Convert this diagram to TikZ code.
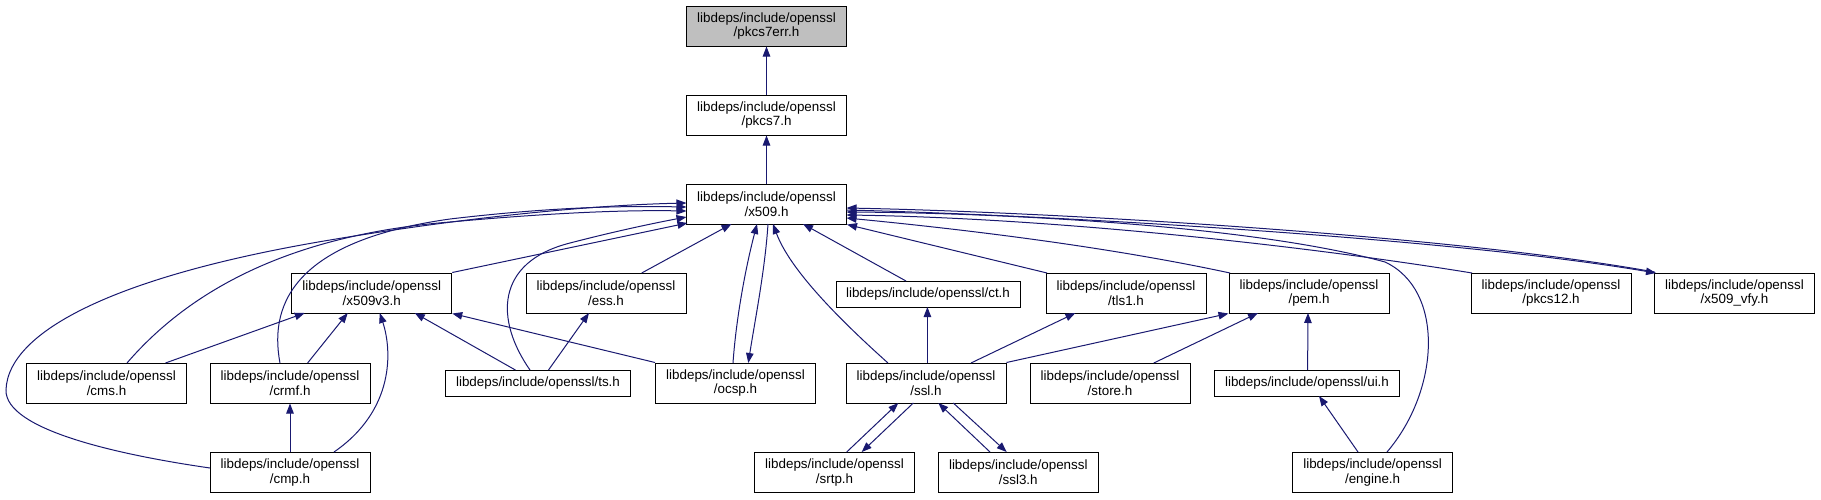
\documentclass[tikz,border=0pt]{standalone}
\usepackage{fontspec}
\setmainfont{Liberation Sans}
\usetikzlibrary{arrows.meta,calc}
\definecolor{edgeblue}{RGB}{25,25,112}
\definecolor{mainfill}{RGB}{191,191,191}
\newcommand\nodefs{\fontsize{13.4}{14.6}\selectfont}
\begin{document}
\begin{tikzpicture}[x=1pt,y=-1pt,
  box/.style={draw=black, line width=1pt, fill=white, inner sep=0pt, align=center, font=\nodefs, minimum width=160pt, minimum height=40pt},
  wide/.style={box, minimum width=185pt, minimum height=26pt},
  edge/.style={draw=edgeblue, line width=1pt, -{Triangle[length=10pt,width=7.5pt]}}]
\useasboundingbox (0,0) rectangle (1821,499);
\node[box,fill=mainfill] (pkcs7err) at (766.5,26) {libdeps/include/openssl\\/pkcs7err.h};
\node[box] (pkcs7) at (766.5,115) {libdeps/include/openssl\\/pkcs7.h};
\node[box] (x509) at (766.5,204) {libdeps/include/openssl\\/x509.h};
\node[box] (x509v3) at (371.75,293) {libdeps/include/openssl\\/x509v3.h};
\node[box] (ess) at (606,293) {libdeps/include/openssl\\/ess.h};
\node[wide,minimum width=184pt] (ct) at (928,294) {libdeps/include/openssl/ct.h};
\node[box] (tls1) at (1126,293) {libdeps/include/openssl\\/tls1.h};
\node[box] (pem) at (1309,293) {libdeps/include/openssl\\/pem.h};
\node[box] (pkcs12) at (1551,293) {libdeps/include/openssl\\/pkcs12.h};
\node[box] (vfy) at (1734.5,293) {libdeps/include/openssl\\/x509\_vfy.h};
\node[box] (cms) at (106.5,383) {libdeps/include/openssl\\/cms.h};
\node[box] (crmf) at (290,383) {libdeps/include/openssl\\/crmf.h};
\node[wide] (ts) at (538,383) {libdeps/include/openssl/ts.h};
\node[box] (ocsp) at (735.5,383) {libdeps/include/openssl\\/ocsp.h};
\node[box] (ssl) at (926,383) {libdeps/include/openssl\\/ssl.h};
\node[box] (store) at (1110,383) {libdeps/include/openssl\\/store.h};
\node[wide] (ui) at (1307,383) {libdeps/include/openssl/ui.h};
\node[box] (cmp) at (290,472.5) {libdeps/include/openssl\\/cmp.h};
\node[box] (srtp) at (834.5,472.5) {libdeps/include/openssl\\/srtp.h};
\node[box] (ssl3) at (1018.3,472.5) {libdeps/include/openssl\\/ssl3.h};
\node[box] (engine) at (1372.6,472.5) {libdeps/include/openssl\\/engine.h};
% edges
\draw[edge] (pkcs7.north) -- (pkcs7err.south);
\draw[edge] (x509.north) -- (pkcs7.south);
\draw[edge] (x509v3.north east) -- ($(x509)+(-79,19)$);
\draw[edge] ($(ess)+(35.7,-20)$) -- ($(x509)+(-35,20)$);
\draw[edge] ($(ocsp)+(-2.5,-20)$) .. controls (736,320) and (745,270) .. ($(x509)+(-9.5,20)$);
\draw[edge] ($(x509)+(1.5,20)$) .. controls (765,270) and (755,320) .. ($(ocsp)+(12.8,-20)$);
\draw[edge] ($(ssl)+(-38,-20)$) .. controls (840,320) and (790,270) .. ($(x509)+(6.5,20)$);
\draw[edge] ($(ct)+(-22,-13)$) -- ($(x509)+(36.5,20)$);
\draw[edge] ($(tls1)+(-79,-20)$) -- (x509.south east);
\draw[edge] ($(pem)+(-79,-20)$) .. controls (1100,245) and (950,228) .. ($(x509)+(80,14)$);
\draw[edge] ($(pkcs12)+(-79,-20)$) .. controls (1300,245) and (1050,218) .. ($(x509)+(80,11)$);
\draw[edge] ($(engine)+(14.4,-20.5)$) .. controls (1440,390) and (1445,290) .. (1385,262) .. controls (1250,225) and (1000,213) .. ($(x509)+(80,8)$);
\draw[edge] ($(vfy)+(-80,-21)$) .. controls (1450,235) and (1050,212) .. ($(x509)+(80,4)$);
\draw[edge] ($(x509)+(80,6)$) .. controls (1050,215) and (1450,238) .. ($(vfy)+(-78.5,-20)$);
\draw[edge] ($(cmp)+(-80,-4.5)$) .. controls (120,455) and (5,430) .. (6,390) .. controls (8,330) and (120,275) .. (330,240) .. controls (480,215) and (600,205) .. ($(x509)+(-80,-1)$);
\draw[edge] ($(cms)+(20.5,-20)$) .. controls (190,290) and (290,235) .. (450,222) .. controls (560,212) and (630,210) .. ($(x509)+(-80,7)$);
\draw[edge] ($(crmf)+(-10,-20)$) .. controls (268,300) and (300,240) .. (450,219) .. controls (560,206) and (630,206) .. ($(x509)+(-80,3)$);
\draw[edge] ($(ts)+(-8,-13)$) .. controls (495,320) and (495,262) .. (570,243) .. controls (620,230) and (660,222) .. ($(x509)+(-80,13)$);
\draw[edge] ($(cms)+(59,-20)$) -- ($(x509v3)+(-67,20)$);
\draw[edge] ($(crmf)+(17.6,-20)$) -- ($(x509v3)+(-24,20)$);
\draw[edge] ($(cmp)+(44,-20.5)$) .. controls (395,410) and (392,350) .. ($(x509v3)+(8,20)$);
\draw[edge] ($(ts)+(-22.6,-13)$) -- ($(x509v3)+(43,20)$);
\draw[edge] (ocsp.north west) -- (x509v3.south east);
\draw[edge] ($(ts)+(10.5,-13)$) -- ($(ess)+(-17,20)$);
\draw[edge] (cmp.north) -- (crmf.south);
\draw[edge] ($(ssl)+(1.4,-20)$) -- ($(ct)+(-0.6,13)$);
\draw[edge] ($(ssl)+(45,-20)$) -- ($(tls1)+(-50.6,20)$);
\draw[edge] (ssl.north east) -- (pem.south west);
\draw[edge] ($(store)+(43.8,-20)$) -- ($(pem)+(-51,20)$);
\draw[edge] ($(ui)+(0.6,-13)$) -- ($(pem)+(-1,20)$);
\draw[edge] ($(engine)+(-14.6,-20.5)$) -- ($(ui)+(12,13)$);
\draw[edge] ($(srtp)+(12.2,-20.5)$) -- ($(ssl)+(-27.7,20)$);
\draw[edge] ($(ssl)+(-12.7,20)$) -- ($(srtp)+(27.2,-20.5)$);
\draw[edge] ($(ssl3)+(-28.3,-20.5)$) -- ($(ssl)+(12.3,20)$);
\draw[edge] ($(ssl)+(27.3,20)$) -- ($(ssl3)+(-11.6,-20.5)$);
\end{tikzpicture}
\end{document}
